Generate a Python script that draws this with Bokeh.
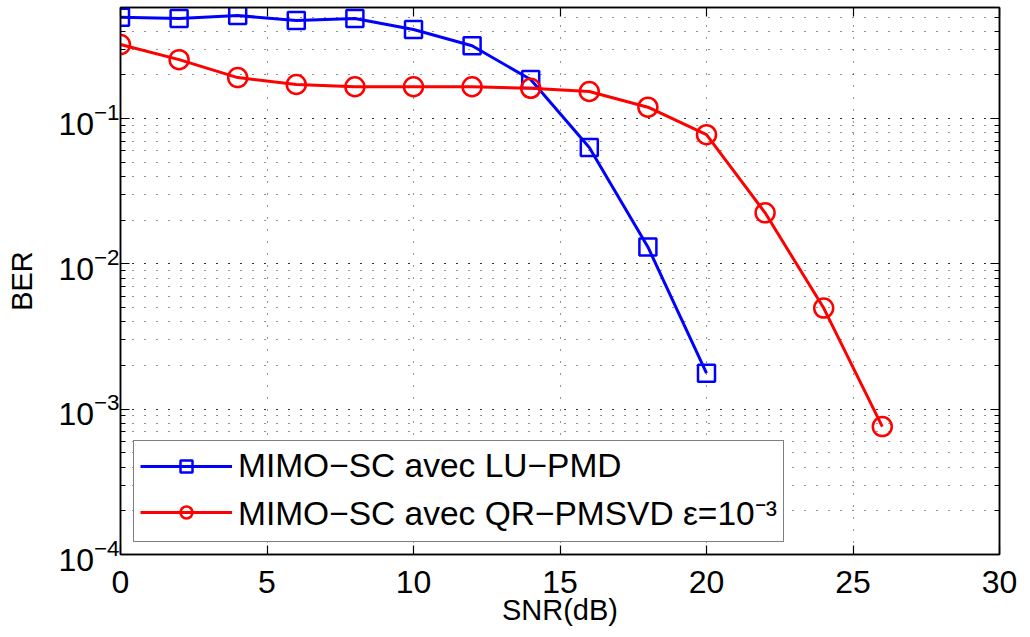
from bokeh.plotting import figure
from bokeh.models import (Range1d, LinearAxis, LogAxis, Legend, LegendItem,
                          CustomJSTickFormatter, FixedTicker, LogTicker, LogTickFormatter)
from bokeh.embed import file_html
from bokeh.resources import INLINE

# ---- data ----
snr_lu = [0, 2, 4, 6, 8, 10, 12, 14, 16, 18, 20]
ber_lu = [0.500, 0.490, 0.513, 0.474, 0.490, 0.411, 0.318, 0.186, 0.0634, 0.0131, 0.00177]
snr_qr = [0, 2, 4, 6, 8, 10, 12, 14, 16, 18, 20, 22, 24, 26]
ber_qr = [0.324, 0.255, 0.192, 0.172, 0.166, 0.166, 0.166, 0.162, 0.154, 0.120, 0.0776,
          0.0225, 0.00497, 0.00076]
x_ticks = [0, 5, 10, 15, 20, 25, 30]
label_lu = "MIMO\u2212SC avec LU\u2212PMD"
label_qr = "MIMO\u2212SC avec QR\u2212PMSVD \u03b5=10\u207b\u00b3"
x_title = "SNR(dB)"
y_title = "BER"

FONT = "Liberation Sans"

p = figure(width=1024, height=637, output_backend="svg", toolbar_location=None,
           x_range=Range1d(0, 30), y_range=Range1d(1e-4, 0.583), y_axis_type="log",
           min_border_left=120, min_border_right=25, min_border_top=7, min_border_bottom=83)
p.background_fill_color = "white"
p.border_fill_color = "white"
p.outline_line_color = "black"
p.outline_line_width = 1.5

xa = p.xaxis[0]
xa.ticker = FixedTicker(ticks=x_ticks)
xa.axis_label = x_title
ya = p.yaxis[0]
ya.ticker = LogTicker(num_minor_ticks=10)
ya.formatter = LogTickFormatter()
ya.axis_label = y_title
for ax in (xa, ya):
    ax.axis_line_color = "black"
    ax.axis_line_width = 1.5
    ax.major_tick_in = 9
    ax.major_tick_out = 0
    ax.minor_tick_in = 5
    ax.minor_tick_out = 0
    ax.major_tick_line_color = "black"
    ax.minor_tick_line_color = "black"
    ax.major_tick_line_width = 1.2
    ax.minor_tick_line_width = 1.2
    ax.major_label_text_font = FONT
    ax.major_label_text_font_size = "32px"
    ax.major_label_text_color = "black"
    ax.axis_label_text_font = FONT
    ax.axis_label_text_font_size = "29px"
    ax.axis_label_text_font_style = "normal"
    ax.axis_label_text_color = "black"
xa.minor_tick_line_color = None
xa.major_label_standoff = 16
xa.axis_label_standoff = -2
ya.major_label_standoff = 1
ya.axis_label_standoff = 17

# mirrored axes (box)
top = LinearAxis(ticker=FixedTicker(ticks=x_ticks))
right = LogAxis(ticker=LogTicker(num_minor_ticks=10))
for ax in (top, right):
    ax.formatter = CustomJSTickFormatter(code="return ''")
    ax.major_label_text_font_size = "0px"
    ax.major_label_standoff = 0
    ax.axis_line_color = "black"
    ax.axis_line_width = 1.5
    ax.major_tick_in = 9
    ax.major_tick_out = 0
    ax.minor_tick_in = 5
    ax.minor_tick_out = 0
    ax.major_tick_line_width = 1.2
    ax.minor_tick_line_width = 1.2
top.minor_tick_line_color = None
p.add_layout(top, "above")
p.add_layout(right, "right")

# grid (dotted)
for g in (p.xgrid[0], p.ygrid[0]):
    g.grid_line_color = "black"
    g.grid_line_alpha = 0.85
    g.grid_line_width = 1
    g.grid_line_dash = "1 11"
p.xgrid[0].ticker = FixedTicker(ticks=x_ticks)
p.ygrid[0].minor_grid_line_color = "black"
p.ygrid[0].minor_grid_line_alpha = 0.85
p.ygrid[0].minor_grid_line_dash = "1 11"

# series
l1 = p.line(snr_lu, ber_lu, line_color="#0000ff", line_width=3)
m1 = p.scatter(snr_lu, ber_lu, marker="square", size=17, line_color="#0000ff",
               line_width=2.5, fill_color=None)
l2 = p.line(snr_qr, ber_qr, line_color="#ff0000", line_width=3)
m2 = p.scatter(snr_qr, ber_qr, marker="circle", size=19, line_color="#ff0000",
               line_width=2.5, fill_color=None)

legend = Legend(items=[LegendItem(label=label_lu, renderers=[l1, m1]),
                       LegendItem(label=label_qr, renderers=[l2, m2])],
                location=(13, 12))
legend.label_text_font = FONT
legend.label_text_font_size = "33.5px"
legend.label_text_color = "black"
legend.glyph_width = 92
legend.glyph_height = 30
legend.label_height = 38
legend.label_standoff = 6
legend.spacing = 4
legend.padding = 6
legend.margin = 0
legend.border_line_color = "black"
legend.border_line_width = 1.5
legend.background_fill_color = "white"
legend.background_fill_alpha = 1
p.add_layout(legend, "center")

open("out.html", "w").write(file_html(p, INLINE))
